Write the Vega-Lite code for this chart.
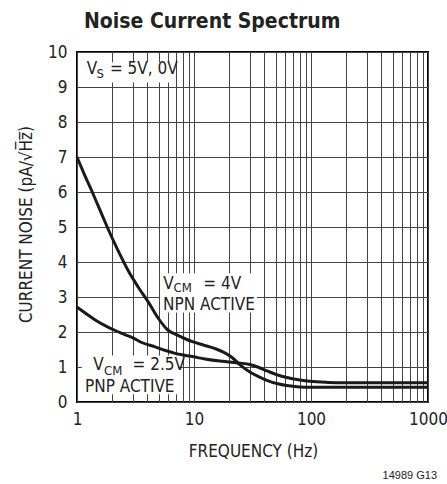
{
  "$schema": "https://vega.github.io/schema/vega-lite/v6.json",
  "autosize": "none",
  "width": 351,
  "height": 350,
  "padding": {"left": 77, "top": 52, "right": 19, "bottom": 82},
  "background": "white",
  "config": {
    "font": "Liberation Sans Narrow, DejaVu Sans Condensed, sans-serif",
    "view": {"stroke": "black", "strokeWidth": 2}
  },
  "title": {
    "text": "Noise Current Spectrum",
    "anchor": "start",
    "font": "Liberation Sans Narrow, DejaVu Sans Condensed, sans-serif",
    "fontSize": 21,
    "fontWeight": "bold",
    "color": "#222",
    "dx": 67,
    "offset": 11
  },
  "datasets": {
    "curves": [
      {"series": "NPN", "f": 1, "v": 7.0},
      {"series": "NPN", "f": 1.15, "v": 6.52},
      {"series": "NPN", "f": 1.33, "v": 6.05},
      {"series": "NPN", "f": 1.62, "v": 5.38},
      {"series": "NPN", "f": 1.84, "v": 4.95},
      {"series": "NPN", "f": 2.24, "v": 4.33},
      {"series": "NPN", "f": 2.72, "v": 3.77},
      {"series": "NPN", "f": 3.34, "v": 3.28},
      {"series": "NPN", "f": 4.06, "v": 2.86},
      {"series": "NPN", "f": 4.93, "v": 2.40},
      {"series": "NPN", "f": 6.0, "v": 2.05},
      {"series": "NPN", "f": 7.0, "v": 1.93},
      {"series": "NPN", "f": 8.5, "v": 1.80},
      {"series": "NPN", "f": 10, "v": 1.71},
      {"series": "NPN", "f": 12, "v": 1.63},
      {"series": "NPN", "f": 15, "v": 1.53},
      {"series": "NPN", "f": 18, "v": 1.42},
      {"series": "NPN", "f": 21, "v": 1.28},
      {"series": "NPN", "f": 24.6, "v": 1.07},
      {"series": "NPN", "f": 30, "v": 0.86},
      {"series": "NPN", "f": 36, "v": 0.72},
      {"series": "NPN", "f": 42, "v": 0.62},
      {"series": "NPN", "f": 52, "v": 0.52},
      {"series": "NPN", "f": 62, "v": 0.47},
      {"series": "NPN", "f": 80, "v": 0.43},
      {"series": "NPN", "f": 100, "v": 0.42},
      {"series": "NPN", "f": 200, "v": 0.42},
      {"series": "NPN", "f": 1000, "v": 0.42},
      {"series": "PNP", "f": 1, "v": 2.71},
      {"series": "PNP", "f": 1.2, "v": 2.52},
      {"series": "PNP", "f": 1.42, "v": 2.35},
      {"series": "PNP", "f": 1.84, "v": 2.14},
      {"series": "PNP", "f": 2.1, "v": 2.05},
      {"series": "PNP", "f": 2.6, "v": 1.92},
      {"series": "PNP", "f": 3.1, "v": 1.81},
      {"series": "PNP", "f": 3.57, "v": 1.70},
      {"series": "PNP", "f": 4.6, "v": 1.58},
      {"series": "PNP", "f": 5.7, "v": 1.47},
      {"series": "PNP", "f": 6.9, "v": 1.39},
      {"series": "PNP", "f": 8.5, "v": 1.33},
      {"series": "PNP", "f": 9.9, "v": 1.29},
      {"series": "PNP", "f": 12.4, "v": 1.23},
      {"series": "PNP", "f": 16.6, "v": 1.17},
      {"series": "PNP", "f": 20.3, "v": 1.14},
      {"series": "PNP", "f": 25, "v": 1.11},
      {"series": "PNP", "f": 30, "v": 1.07},
      {"series": "PNP", "f": 35, "v": 1.0},
      {"series": "PNP", "f": 42, "v": 0.89},
      {"series": "PNP", "f": 50, "v": 0.79},
      {"series": "PNP", "f": 62, "v": 0.70},
      {"series": "PNP", "f": 80, "v": 0.63},
      {"series": "PNP", "f": 98, "v": 0.59},
      {"series": "PNP", "f": 140, "v": 0.56},
      {"series": "PNP", "f": 200, "v": 0.55},
      {"series": "PNP", "f": 1000, "v": 0.55}
    ],
    "boxes": [
      {"f1": 1.17, "f2": 6.88, "v1": 9.13, "v2": 9.71},
      {"f1": 5.12, "f2": 34.5, "v1": 2.56, "v2": 3.68},
      {"f1": 1.1, "f2": 7.3, "v1": 0.22, "v2": 1.33}
    ],
    "labels": [
      {"text": "V", "f": 1.21, "v": 9.38, "role": "main"},
      {"text": "S", "f": 1.47, "v": 9.25, "role": "sub"},
      {"text": "= 5V, 0V", "f": 1.91, "v": 9.38, "role": "main"},
      {"text": "V", "f": 5.47, "v": 3.24, "role": "main"},
      {"text": "CM", "f": 6.69, "v": 3.13, "role": "sub"},
      {"text": "= 4V", "f": 12.0, "v": 3.24, "role": "main"},
      {"text": "NPN ACTIVE", "f": 5.44, "v": 2.62, "role": "main"},
      {"text": "V", "f": 1.38, "v": 0.906, "role": "main"},
      {"text": "CM", "f": 1.70, "v": 0.78, "role": "sub"},
      {"text": "= 2.5V", "f": 2.98, "v": 0.906, "role": "main"},
      {"text": "PNP ACTIVE", "f": 1.17, "v": 0.28, "role": "main"}
    ],
    "note": [
      {"text": "14989 G13", "f": 1000, "v": -2.21}
    ]
  },
  "encoding": {
    "x": {
      "field": "f",
      "type": "quantitative",
      "scale": {"type": "log", "domain": [1, 1000], "nice": false},
      "axis": {
        "title": "FREQUENCY (Hz)",
        "values": [1,2,3,4,5,6,7,8,9,10,20,30,40,50,60,70,80,90,100,200,300,400,500,600,700,800,900,1000],
        "format": "d",
        "labelExpr": "(datum.value == 1 || datum.value == 10 || datum.value == 100 || datum.value == 1000) ? datum.label : ''",
        "domain": false,
        "ticks": false,
        "labelPadding": 9,
        "labelFontSize": 17,
        "labelColor": "#222",
        "labelFont": "Liberation Sans Narrow, DejaVu Sans Condensed, sans-serif",
        "labelFlush": false,
        "labelOverlap": false,
        "grid": true,
        "gridColor": "#444",
        "gridWidth": 1,
        "titleFontSize": 17,
        "titleFontWeight": "normal",
        "titleColor": "#222",
        "titleFont": "Liberation Sans Narrow, DejaVu Sans Condensed, sans-serif",
        "titleX": 176,
        "titleY": 54,
        "titleBaseline": "alphabetic",
        "titleAlign": "center"
      }
    },
    "y": {
      "field": "v",
      "type": "quantitative",
      "scale": {"domain": [0, 10], "nice": false, "zero": false},
      "axis": {
        "title": "CURRENT NOISE (pA/√H̅z̅)",
        "values": [0,1,2,3,4,5,6,7,8,9,10],
        "domain": false,
        "ticks": false,
        "labelPadding": 10,
        "labelFontSize": 17,
        "labelColor": "#222",
        "labelFont": "Liberation Sans Narrow, DejaVu Sans Condensed, sans-serif",
        "labelFlush": false,
        "labelOverlap": false,
        "grid": true,
        "gridColor": "#444",
        "gridWidth": 1,
        "titleFontSize": 17,
        "titleFontWeight": "normal",
        "titleColor": "#222",
        "titleFont": "Liberation Sans Narrow, DejaVu Sans Condensed, sans-serif",
        "titleAngle": 270,
        "titleX": -46,
        "titleY": 172,
        "titleAlign": "center",
        "titleBaseline": "alphabetic"
      }
    }
  },
  "layer": [
    {
      "data": {"name": "boxes"},
      "mark": {"type": "rect", "fill": "white", "stroke": null},
      "encoding": {
        "x": {"field": "f1", "type": "quantitative"},
        "x2": {"field": "f2"},
        "y": {"field": "v1", "type": "quantitative"},
        "y2": {"field": "v2"}
      }
    },
    {
      "data": {"name": "curves"},
      "mark": {"type": "line", "color": "#1a1a1a", "strokeWidth": 3, "interpolate": "monotone"},
      "encoding": {
        "detail": {"field": "series", "type": "nominal"}
      }
    },
    {
      "data": {"name": "labels"},
      "transform": [{"filter": "datum.role == 'main'"}],
      "mark": {"type": "text", "align": "left", "baseline": "alphabetic", "fontSize": 17, "color": "#222"},
      "encoding": {"text": {"field": "text"}}
    },
    {
      "data": {"name": "labels"},
      "transform": [{"filter": "datum.role == 'sub'"}],
      "mark": {"type": "text", "align": "left", "baseline": "alphabetic", "fontSize": 13, "color": "#222"},
      "encoding": {"text": {"field": "text"}}
    },
    {
      "data": {"name": "note"},
      "mark": {"type": "text", "align": "right", "baseline": "alphabetic", "fontSize": 11, "dx": 9, "color": "#222", "font": "Liberation Sans, Arial, sans-serif"},
      "encoding": {"text": {"field": "text"}}
    }
  ]
}
